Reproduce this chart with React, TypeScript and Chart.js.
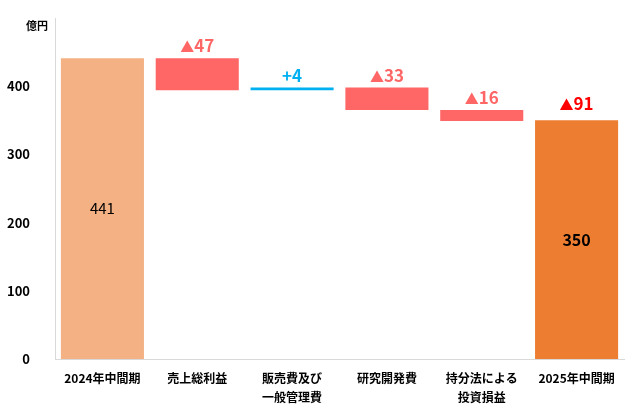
import React, { useEffect, useRef } from 'react';
import { Chart, registerables } from 'chart.js';

Chart.register(...registerables);

const categories: (string | string[])[] = [
  '2024年中間期',
  '売上総利益',
  ['販売費及び', '一般管理費'],
  '研究開発費',
  ['持分法による', '投資損益'],
  '2025年中間期',
];
// floating bars: [from, to]
const barStarts = [0, 441, 394, 398, 365, 0];
const barEnds = [441, 394, 398, 365, 349, 350];
const insideLabels = ['441', '', '', '', '', '350'];
const aboveLabels = ['', '▲47', '+4', '▲33', '▲16', '▲91'];
const yTicks = [0, 100, 200, 300, 400];

const barColors = ['#F4B183', '#FF6666', '#00B0F0', '#FF6666', '#FF6666', '#ED7D31'];
const aboveColors = ['', '#FF6666', '#00B0F0', '#FF6666', '#FF6666', '#FF0000'];
const FONT = '"Noto Sans CJK JP", "Noto Sans", sans-serif';

const labelPlugin = {
  id: 'waterfallLabels',
  afterDatasetsDraw(chart: any) {
    const { ctx } = chart;
    const meta = chart.getDatasetMeta(0);
    ctx.save();
    meta.data.forEach((bar: any, i: number) => {
      const top = Math.min(bar.y, bar.base);
      const bottom = Math.max(bar.y, bar.base);
      if (insideLabels[i]) {
        ctx.fillStyle = '#000';
        ctx.textAlign = 'center';
        ctx.textBaseline = 'middle';
        ctx.font = (i === 0 ? '400 15px ' : '700 16px ') + FONT;
        ctx.fillText(insideLabels[i], bar.x, (top + bottom) / 2);
      }
      const text = aboveLabels[i];
      if (text) {
        // triangle drawn a little smaller than the digits
        const hasTri = text.startsWith('▲');
        const head = hasTri ? '▲' : '';
        const rest = hasTri ? text.slice(1) : text;
        const headFont = '700 14px ' + FONT;
        const restFont = '700 17px ' + FONT;
        ctx.font = headFont;
        const wHead = head ? ctx.measureText(head).width : 0;
        ctx.font = restFont;
        const wRest = ctx.measureText(rest).width;
        let x = bar.x - (wHead + wRest) / 2;
        const y = top - (i === 5 ? 10 : 6);
        ctx.fillStyle = aboveColors[i];
        ctx.textAlign = 'left';
        ctx.textBaseline = 'alphabetic';
        if (head) {
          ctx.font = headFont;
          ctx.fillText(head, x, y);
          x += wHead;
        }
        ctx.font = restFont;
        ctx.fillText(rest, x, y);
      }
    });
    // unit label
    ctx.fillStyle = '#000';
    ctx.font = '700 11px ' + FONT;
    ctx.textAlign = 'center';
    ctx.textBaseline = 'middle';
    ctx.fillText('億円', 37, 26);
    ctx.restore();
  },
};

export default function App() {
  const canvasRef = useRef<HTMLCanvasElement>(null);
  const chartRef = useRef<Chart | null>(null);

  useEffect(() => {
    if (!canvasRef.current) return;
    if (chartRef.current) chartRef.current.destroy();

    chartRef.current = new Chart(canvasRef.current, {
      type: 'bar',
      data: {
        labels: categories,
        datasets: [
          {
            data: barStarts.map((s, i) => [s, barEnds[i]]) as any,
            backgroundColor: barColors,
            borderWidth: 0,
            categoryPercentage: 1,
            barPercentage: 0.876,
          },
        ],
      },
      options: {
        responsive: true,
        maintainAspectRatio: false,
        animation: false,
        layout: { padding: { top: 18, right: 17, left: 0, bottom: 0 } },
        plugins: {
          legend: { display: false },
          tooltip: { enabled: false },
        },
        scales: {
          x: {
            grid: { display: false },
            border: { color: '#D9D9D9', width: 1 },
            afterFit: (scale: any) => {
              scale.height = 58;
            },
            ticks: {
              color: '#000',
              font: { family: FONT, size: 12, weight: 'bold', lineHeight: 1.6 },
              maxRotation: 0,
              autoSkip: false,
              padding: 2,
            },
          },
          y: {
            min: 0,
            max: 500,
            grid: { display: false },
            border: { color: '#D9D9D9', width: 1 },
            afterBuildTicks: (scale: any) => {
              scale.ticks = yTicks.map((v) => ({ value: v }));
            },
            afterFit: (scale: any) => {
              scale.width = 55;
              scale.paddingTop = 0;
              scale.paddingBottom = 0;
            },
            ticks: {
              color: '#000',
              font: { family: FONT, size: 13, weight: 'bold' },
              padding: 17,
            },
          },
        },
      },
      plugins: [labelPlugin],
    });

    return () => {
      if (chartRef.current) {
        chartRef.current.destroy();
        chartRef.current = null;
      }
    };
  }, []);

  return (
    <div style={{ position: 'fixed', left: 0, top: 0, width: 641, height: 417, background: '#fff' }}>
      <canvas ref={canvasRef}></canvas>
    </div>
  );
}
